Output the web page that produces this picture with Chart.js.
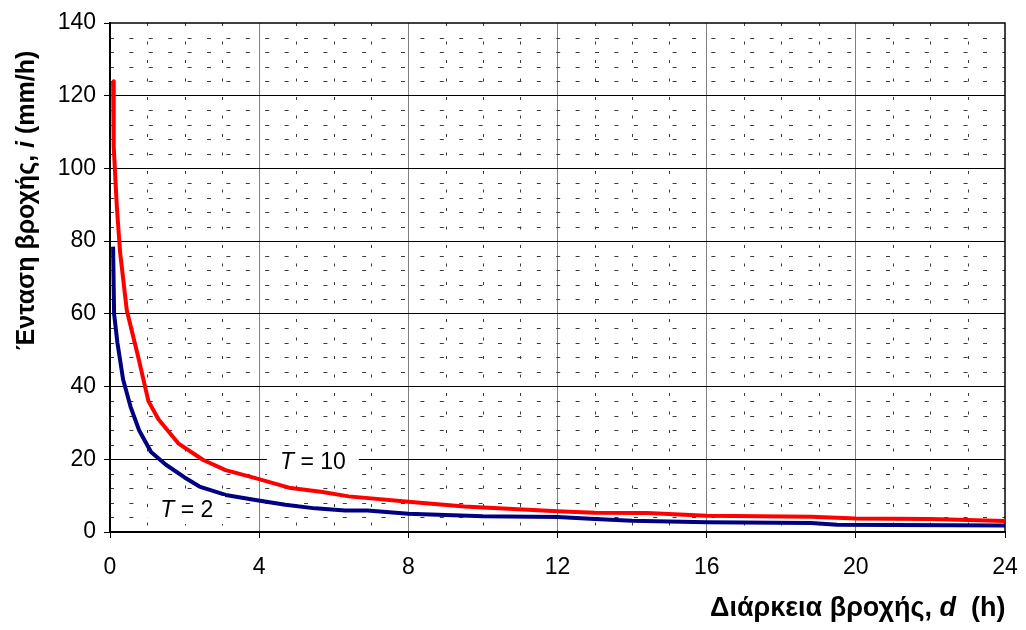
<!DOCTYPE html>
<html>
<head>
<meta charset="utf-8">
<script src="https://cdn.jsdelivr.net/npm/chart.js@4.4.1/dist/chart.umd.min.js"></script>
<style>
  html, body { margin: 0; padding: 0; background: #ffffff; }
  #wrap { width: 1026px; height: 630px; position: relative; }
</style>
</head>
<body>
<div id="wrap"><canvas id="idf" width="1026" height="630"></canvas></div>
<script>
// Rainfall intensity–duration curves for return periods T = 2 and T = 10 years
const durationsT2  = [0.083, 0.11, 0.2, 0.35, 0.55, 0.78, 1.1, 1.5, 2.0, 2.4, 3.1, 3.9, 4.7, 5.5, 6.3, 6.9, 8.0, 9.0, 10.0, 12.0, 13.0, 14.0, 16.0, 18.8, 19.5, 24.0];
const intensityT2  = [78.5, 60, 52, 42, 34.5, 28, 22, 18.5, 15, 12.5, 10.2, 8.8, 7.5, 6.5, 5.9, 5.9, 5.0, 4.7, 4.3, 4.1, 3.6, 3.1, 2.7, 2.5, 2.0, 1.8];

const durationsT10 = [0.083, 0.1, 0.18, 0.27, 0.45, 0.76, 1.03, 1.3, 1.83, 2.5, 3.1, 3.9, 4.8, 5.7, 6.4, 8.0, 9.5, 12.0, 13.0, 14.4, 16.0, 18.8, 20.0, 22.0, 24.0];
const intensityT10 = [124, 106, 90, 77, 61, 48, 36, 31, 24.4, 19.8, 17, 14.8, 12.2, 11, 9.8, 8.3, 7.0, 5.7, 5.3, 5.2, 4.5, 4.2, 3.7, 3.6, 3.0];

const xTickValues = [0, 4, 8, 12, 16, 20, 24];
const yTickValues = [0, 20, 40, 60, 80, 100, 120, 140];

// curve captions: [italic symbol, rest, x (h), y (mm/h)]
const captionT2  = ['T', ' = 2', 2.06, 6.05];
const captionT10 = ['T', ' = 10', 5.44, 19.25];

const FONT = '"Liberation Sans", Arial, sans-serif';

function toPoints(xs, ys) { return xs.map((x, i) => ({ x: x, y: ys[i] })); }

// dashed minor grid, frame, captions and axis titles
const decorations = {
  id: 'decorations',
  beforeDatasetsDraw(chart) {
    const { ctx, chartArea: a, scales: { x, y } } = chart;
    ctx.save();
    ctx.strokeStyle = '#3a3a3a';
    ctx.lineWidth = 1;
    // vertical minor lines every 1 h
    ctx.setLineDash([3, 15.5]);
    for (let v = 1; v < 24; v++) {
      if (v % 4 === 0) continue;
      const px = Math.round(x.getPixelForValue(v)) + 0.5;
      ctx.beginPath(); ctx.moveTo(px, a.top); ctx.lineTo(px, a.bottom); ctx.stroke();
    }
    // horizontal minor lines every 4 mm/h
    ctx.setLineDash([4, 15.4]);
    for (let v = 4; v < 140; v += 4) {
      if (v % 20 === 0) continue;
      const py = Math.round(y.getPixelForValue(v)) + 0.5;
      ctx.beginPath(); ctx.moveTo(a.left, py); ctx.lineTo(a.right, py); ctx.stroke();
    }
    ctx.setLineDash([]);
    // frame
    ctx.strokeStyle = '#000000';
    ctx.lineWidth = 1.5;
    ctx.strokeRect(a.left, a.top, a.right - a.left, a.bottom - a.top);
    ctx.restore();
  },
  afterDatasetsDraw(chart) {
    const { ctx, scales: { x, y } } = chart;
    const drawCaption = (c, boxW, boxH) => {
      const cx = x.getPixelForValue(c[2]);
      const cy = y.getPixelForValue(c[3]);
      ctx.save();
      ctx.font = 'italic 23px ' + FONT;
      const w1 = ctx.measureText(c[0]).width;
      ctx.font = '23px ' + FONT;
      const w2 = ctx.measureText(c[1]).width;
      ctx.fillStyle = '#ffffff';
      ctx.fillRect(cx - boxW / 2, cy - boxH / 2, boxW, boxH);
      ctx.fillStyle = '#000000';
      ctx.textBaseline = 'middle';
      const sx = cx - (w1 + w2) / 2;
      ctx.font = 'italic 23px ' + FONT;
      ctx.fillText(c[0], sx, cy + 1);
      ctx.font = '23px ' + FONT;
      ctx.fillText(c[1], sx + w1, cy + 1);
      ctx.restore();
    };
    drawCaption(captionT10, 92, 30);
    drawCaption(captionT2, 76, 28);
  },
  afterDraw(chart) {
    const { ctx } = chart;
    const runs = (parts, size, startX, baseY) => {
      let px = startX;
      for (const [txt, italic] of parts) {
        ctx.font = (italic ? 'italic ' : '') + 'bold ' + size + 'px ' + FONT;
        ctx.fillText(txt, px, baseY);
        px += ctx.measureText(txt).width;
      }
    };
    ctx.save();
    ctx.fillStyle = '#000000';
    ctx.textBaseline = 'alphabetic';
    // x axis title, below the right half of the axis
    const xTitle = [['Διάρκεια βροχής, ', false], ['d', true], ['  (h)', false]];
    runs(xTitle, 27, 710, 616);
    // y axis title, rotated
    const yTitle = [['Ένταση βροχής, ', false], ['i', true], [' (mm/h)', false]];
    ctx.translate(34, 350);
    ctx.rotate(-Math.PI / 2);
    runs(yTitle, 25, 0, 0);
    ctx.restore();
  }
};

new Chart(document.getElementById('idf'), {
  type: 'line',
  data: {
    datasets: [
      {
        label: 'T = 10',
        data: toPoints(durationsT10, intensityT10),
        borderColor: '#ff0000',
        borderWidth: 4,
        pointRadius: 0,
        tension: 0,
        borderJoinStyle: 'round',
        fill: false
      },
      {
        label: 'T = 2',
        data: toPoints(durationsT2, intensityT2),
        borderColor: '#000080',
        borderWidth: 4,
        pointRadius: 0,
        tension: 0,
        borderJoinStyle: 'round',
        fill: false
      }
    ]
  },
  options: {
    responsive: false,
    animation: false,
    devicePixelRatio: 1,
    layout: { padding: { top: 23, right: 21, left: 0, bottom: 0 } },
    plugins: { legend: { display: false }, tooltip: { enabled: false } },
    scales: {
      x: {
        type: 'linear',
        min: 0, max: 24,
        afterBuildTicks(scale) { scale.ticks = xTickValues.map(v => ({ value: v })); },
        ticks: { color: '#000', font: { family: FONT, size: 23 }, padding: 16, maxRotation: 0 },
        grid: {
          color: (c) => (c.tick && (c.tick.value === 0 || c.tick.value === 24)) ? 'rgba(0,0,0,0)' : '#808080',
          tickColor: '#000',
          lineWidth: 1,
          tickLength: 6
        },
        border: { display: true, color: '#000', width: 2 },
        afterFit(scale) {
          scale.height = 98;
          scale.paddingLeft = 0;
          scale.paddingRight = 0;
        }
      },
      y: {
        min: 0, max: 140,
        afterBuildTicks(scale) { scale.ticks = yTickValues.map(v => ({ value: v })); },
        ticks: { color: '#000', font: { family: FONT, size: 23 }, padding: 8 },
        grid: {
          color: (c) => (c.tick && (c.tick.value === 0 || c.tick.value === 140)) ? 'rgba(0,0,0,0)' : '#000000',
          tickColor: '#000',
          lineWidth: 1,
          tickLength: 6
        },
        border: { display: true, color: '#000', width: 2 },
        afterFit(scale) {
          scale.width = 110;
          scale.paddingTop = 0;
          scale.paddingBottom = 0;
        }
      }
    }
  },
  plugins: [decorations]
});
</script>
</body>
</html>
